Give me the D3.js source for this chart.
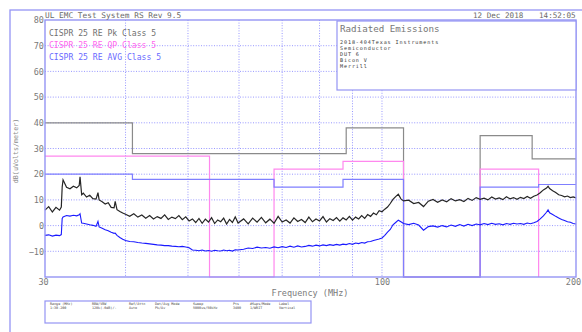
<!DOCTYPE html>
<html>
<head>
<meta charset="utf-8">
<script src="https://cdn.jsdelivr.net/npm/d3@7"></script>
<style>
  html, body { margin: 0; padding: 0; background: #fff; }
  svg { display: block; font-family: 'DejaVu Sans Mono', monospace; }
</style>
</head>
<body>
<script>
'use strict'

// ---- data ----
var yTicks  = [80, 70, 60, 50, 40, 30, 20, 10, 0, -10]
var yGrid   = [70, 60, 50, 40, 30, 20, 10, 0, -10]
var xGrid   = [40, 50, 60, 70, 80, 90, 100]
var xLabels = [30, 100, 200]

// limit segments: [start MHz, stop MHz, dBuV/m]
var pkLimit = [[30, 41, 40], [41, 88, 28], [88, 108, 38], [142, 171, 35], [171, 200, 26]]
var qpLimit = [[30, 54, 27], [68, 87, 22], [87, 108, 25], [142, 175, 22]]
var avLimit = [[30, 41, 20], [41, 68, 18], [68, 87, 15], [87, 108, 18], [142, 175, 15], [175, 200, 16]]

var sweepMHz = [
  30, 30.4, 30.8, 31.2, 31.6, 31.8, 31.9, 32.0, 32.4, 32.8,
  33.2, 33.6, 33.9, 34.0, 34.2, 34.4, 34.8, 35.2, 35.6, 36.0,
  36.25, 36.4, 36.8, 37.2, 37.6, 38.0, 38.4, 38.55, 38.8, 39.2,
  39.6, 40.0, 40.6, 41.2, 41.8, 42.4, 43.0, 43.6, 44.2, 44.8,
  45.4, 46.0, 46.6, 47.2, 47.8, 48.4, 49.0, 49.6, 50.2, 50.8,
  51.4, 52.0, 52.6, 53.2, 53.8, 54.4, 55.0, 55.6, 56.2, 56.8,
  57.4, 58.0, 58.6, 59.2, 59.8, 61, 62, 63, 64, 65,
  66, 67, 68, 69, 70, 71, 72, 73, 74, 75,
  76, 77, 78, 79, 80, 81, 82, 83, 84, 85,
  86, 87, 88, 89, 90, 91, 92, 93, 94, 95,
  96, 97, 98, 99, 100, 101, 102, 103, 104, 105,
  106, 107, 108, 110, 112, 114, 116, 118, 120, 122,
  124, 126, 128, 130, 132, 134, 136, 138, 140, 142,
  144, 146, 148, 150, 152, 154, 156, 158, 160, 162,
  164, 166, 168, 170, 172, 174, 176, 178, 180, 181,
  182, 184, 186, 188, 190, 192, 194, 196, 198, 200
]

var peakDb = [
  6.0, 7.4, 5.3, 7.1, 6.0, 7.2, 15.0, 17.8, 14.9, 14.3,
  15.3, 14.7, 15.6, 19.0, 12.0, 12.6, 11.1, 11.8, 10.5, 10.3,
  12.8, 10.0, 9.3, 8.4, 8.9, 7.1, 6.9, 9.4, 6.2, 5.5,
  4.9, 4.4, 3.6, 4.6, 3.3, 4.1, 2.9, 3.9, 2.6, 3.5,
  2.8, 4.2, 2.4, 3.3, 2.7, 3.9, 2.3, 3.4, 1.8, 2.6,
  1.2, 2.8, 0.9, 2.5, 1.4, 3.1, 0.8, 2.2, 1.5, 2.9,
  0.6, 2.4, 1.2, 3.4, 1.0, 2.6, 0.7, 2.9, 1.3, 3.2,
  1.1, 2.5, 0.9, 3.6, 1.4, 2.2, 1.0, 3.0, 1.6, 2.4,
  1.2, 3.3, 1.5, 2.6, 1.8, 3.5, 1.4, 2.7, 2.0, 3.1,
  1.7, 3.0, 2.2, 3.6, 2.1, 3.3, 2.6, 3.9, 2.8, 4.3,
  3.6, 4.9, 4.2, 5.8, 5.4, 6.4, 7.2, 8.6, 10.2, 11.3,
  12.2, 10.4, 9.6, 9.9, 8.6, 9.0, 7.4, 9.5, 10.2, 9.1,
  10.0, 9.3, 10.5, 9.6, 10.1, 9.4, 10.6, 9.8, 10.9, 10.2,
  10.7, 10.0, 11.1, 10.3, 10.8, 10.1, 11.2, 10.4, 10.9, 10.2,
  11.0, 10.5, 11.3, 10.6, 11.4, 11.9, 12.8, 13.9, 14.6, 15.3,
  14.4, 13.6, 12.9, 12.0, 11.7, 11.2, 11.5, 10.9, 11.2, 10.8
]

var avgDb = [
  -3.8, -3.6, -4.1, -3.7, -3.9, -3.5, 2.8, 3.4, 3.9, 3.7,
  4.0, 3.8, 4.2, 4.6, 1.0, 0.9, 0.6, 0.3, 0.1, -0.3,
  1.6, -0.5, -1.0, -1.6, -2.0, -2.6, -3.0, -2.9, -3.8, -4.6,
  -5.3, -5.8, -6.2, -6.3, -6.6, -6.8, -6.9, -7.1, -7.3, -7.5,
  -7.6, -7.8, -7.8, -8.0, -8.1, -8.2, -8.1, -8.3, -8.6, -9.5,
  -9.6, -9.8, -9.5, -9.9, -9.7, -10.0, -9.6, -9.8, -9.9, -9.5,
  -9.8, -9.6, -9.9, -9.4, -9.5, -9.2, -8.7, -8.9, -8.4, -8.7,
  -8.5, -8.8, -8.3, -8.6, -8.2, -8.5, -8.0, -8.4, -7.9, -8.3,
  -8.1, -7.7, -8.0, -7.6, -7.9, -7.5, -7.8, -7.4, -7.7, -7.3,
  -7.6, -7.2, -7.4, -7.0, -7.3, -6.8, -7.0, -6.6, -6.8, -6.3,
  -6.2, -5.8, -5.5, -5.2, -4.8, -3.8, -2.5, -1.5, 0.3, 1.2,
  2.1, 1.5, 0.8, 0.4, 0.9, 0.2, -1.8, -0.4, -0.1, -0.6,
  0.0, -0.5, 0.2, -0.3, 0.4, -0.2, 0.5, 0.0, 0.6, 0.3,
  0.8, 0.4, 0.9, 0.5, 0.7, 0.3, 0.8, 0.5, 0.9, 0.6,
  0.8, 0.5, 1.0, 0.7, 1.1, 1.6, 2.6, 3.8, 5.2, 6.1,
  5.0, 4.3, 3.6, 3.0, 2.4, 2.0, 1.5, 1.3, 0.8, 0.6
]

var legendText = ['CISPR 25 RE Pk Class 5', 'CISPR 25 RE QP Class 5', 'CISPR 25 RE AVG Class 5']
var infoLines  = ['2018-404Texas Instruments', 'Semiconductor', 'DUT 6', 'Bicon V', 'Merrill']
var tableHead  = ['Range (MHz)', 'RBW/VBW', 'Ref/Attn', 'Det/Avg Mode', 'Sweep', 'Pts', '#Swps/Mode', 'Label']
var tableVals  = ['1:30-200', '120k(-6dB)/-', 'Auto', 'Pk/Av', '5000us/50kHz', '3400', '1/WRIT', 'Vertical']

// ---- layout ----
var W = 582, H = 332
var plot = { left: 45, right: 576, top: 20, bottom: 277 }
var lav = '#9494f4'

var x = d3.scaleLog().domain([30, 200]).range([plot.left, plot.right])
var y = d3.scaleLinear().domain([-20, 80]).range([plot.bottom, plot.top])

var svg = d3.select('body').append('svg').attr('width', W).attr('height', H)

// outer page frame
svg.append('rect').attr('x', 10).attr('y', 10).attr('width', 590).attr('height', 340)
  .attr('fill', 'none').attr('stroke', lav).attr('stroke-width', 1.3)

// grid
var grid = svg.append('g').attr('stroke', '#8c8cff').attr('stroke-width', 0.9).attr('stroke-dasharray', '1,1.6')
grid.selectAll('.hg').data(yGrid).enter().append('line')
  .attr('x1', plot.left).attr('x2', plot.right)
  .attr('y1', function (d) { return y(d) }).attr('y2', function (d) { return y(d) })
grid.selectAll('.vg').data(xGrid).enter().append('line')
  .attr('y1', plot.top).attr('y2', plot.bottom)
  .attr('x1', function (d) { return x(d) }).attr('x2', function (d) { return x(d) })

// limit lines as step paths, dropping to the floor where no limit is defined
function limitPath (segs) {
  var yb = y(-20), p = ''
  segs.forEach(function (s, i) {
    var prev = segs[i - 1]
    if (!prev) p += 'M' + x(s[0]) + ',' + y(s[2])
    else if (prev[1] < s[0]) p += 'V' + yb + 'H' + x(s[0]) + 'V' + y(s[2])
    else p += 'V' + y(s[2])
    p += 'H' + x(s[1])
  })
  if (segs[segs.length - 1][1] < 200) p += 'V' + yb
  return p
}

var limits = [
  { segs: pkLimit, color: '#8a8a8a' },
  { segs: qpLimit, color: '#ff88ee' },
  { segs: avLimit, color: '#7f7fff' }
]
svg.append('g').selectAll('path').data(limits).enter().append('path')
  .attr('d', function (d) { return limitPath(d.segs) })
  .attr('fill', 'none').attr('stroke', function (d) { return d.color }).attr('stroke-width', 1.2)

// measured traces
var line = d3.line()
  .x(function (d) { return x(d[0]) })
  .y(function (d) { return y(d[1]) })

var avgTrace  = sweepMHz.map(function (f, i) { return [f, avgDb[i]] })
var peakTrace = sweepMHz.map(function (f, i) { return [f, peakDb[i]] })

svg.append('path').datum(avgTrace).attr('d', line)
  .attr('fill', 'none').attr('stroke', '#1a1aff').attr('stroke-width', 1.1)
svg.append('path').datum(peakTrace).attr('d', line)
  .attr('fill', 'none').attr('stroke', '#262626').attr('stroke-width', 1.2)

// plot frame
svg.append('rect').attr('x', plot.left).attr('y', plot.top)
  .attr('width', plot.right - plot.left).attr('height', plot.bottom - plot.top)
  .attr('fill', 'none').attr('stroke', lav).attr('stroke-width', 1.4)

// axes (labels only)
var yAxis = svg.append('g').attr('transform', 'translate(' + (plot.left - 1) + ',0)')
  .call(d3.axisLeft(y).tickValues(yTicks).tickSize(0).tickPadding(0).tickFormat(d3.format('d')))
var xAxis = svg.append('g').attr('transform', 'translate(0,' + (plot.bottom + 1) + ')')
  .call(d3.axisBottom(x).tickValues(xLabels).tickSize(0).tickPadding(1).tickFormat(d3.format('d')))
;[yAxis, xAxis].forEach(function (a) {
  a.select('.domain').remove()
  a.selectAll('text').attr('fill', '#7a7a7a').style('font-family', 'DejaVu Sans Mono').style('font-size', '8.5px')
})
xAxis.selectAll('text').filter(function (d) { return d === 30 }).attr('dx', '-2')
xAxis.selectAll('text').filter(function (d) { return d === 200 }).attr('dx', '-3')

svg.append('text').attr('x', 310).attr('y', 293).attr('dy', '0.35em')
  .attr('text-anchor', 'middle').attr('fill', '#7a7a7a').style('font-size', '8.5px')
  .text('Frequency (MHz)')

svg.append('text').attr('transform', 'translate(16,151) rotate(-90)').attr('dy', '0.35em')
  .attr('text-anchor', 'middle').attr('fill', '#8a8a8a').style('font-size', '6.7px')
  .text('dB(uVolts/meter)')

// header
svg.append('text').attr('x', 45).attr('y', 15.5).attr('dy', '0.35em')
  .attr('fill', '#6a6a6a').style('font-size', '7.8px').text('UL EMC Test System RS Rev 9.5')
svg.append('text').attr('x', 473).attr('y', 15).attr('dy', '0.35em')
  .attr('fill', '#6a6a6a').style('font-size', '7.6px').text('12 Dec 2018')
svg.append('text').attr('x', 539).attr('y', 15).attr('dy', '0.35em')
  .attr('fill', '#6a6a6a').style('font-size', '7.6px').text('14:52:05')

// legend
var legendColors = ['#707070', '#ff66ee', '#6a6aff']
svg.append('g').selectAll('text').data(legendText).enter().append('text')
  .attr('x', 49).attr('y', function (d, i) { return 33 + i * 12 }).attr('dy', '0.35em')
  .attr('fill', function (d, i) { return legendColors[i] }).style('font-size', '8.1px')
  .text(function (d) { return d })

// info box
svg.append('rect').attr('x', 337).attr('y', 21).attr('width', 239).attr('height', 69)
  .attr('fill', '#fff').attr('stroke', lav).attr('stroke-width', 1.2)
svg.append('text').attr('x', 340).attr('y', 28.5).attr('dy', '0.35em')
  .attr('fill', '#777').style('font-size', '9.2px').text('Radiated Emissions')
svg.append('g').selectAll('text').data(infoLines).enter().append('text')
  .attr('x', 340).attr('y', function (d, i) { return 42.3 + i * 6 }).attr('dy', '0.35em')
  .attr('fill', '#333').style('font-size', '5.1px').style('letter-spacing', '0.9px')
  .text(function (d) { return d })

// settings table
var colX = [50, 92, 129, 155, 193, 233, 250, 279]
svg.append('rect').attr('x', 45).attr('y', 301).attr('width', 266).attr('height', 22)
  .attr('fill', 'none').attr('stroke', lav).attr('stroke-width', 1.2)
var table = svg.append('g').attr('fill', '#444').style('font-size', '3.4px')
table.selectAll('.th').data(tableHead).enter().append('text')
  .attr('x', function (d, i) { return colX[i] }).attr('y', 303.6).attr('dy', '0.35em')
  .text(function (d) { return d })
table.selectAll('.tv').data(tableVals).enter().append('text')
  .attr('x', function (d, i) { return colX[i] }).attr('y', 307.8).attr('dy', '0.35em')
  .text(function (d) { return d })
</script>
</body>
</html>
